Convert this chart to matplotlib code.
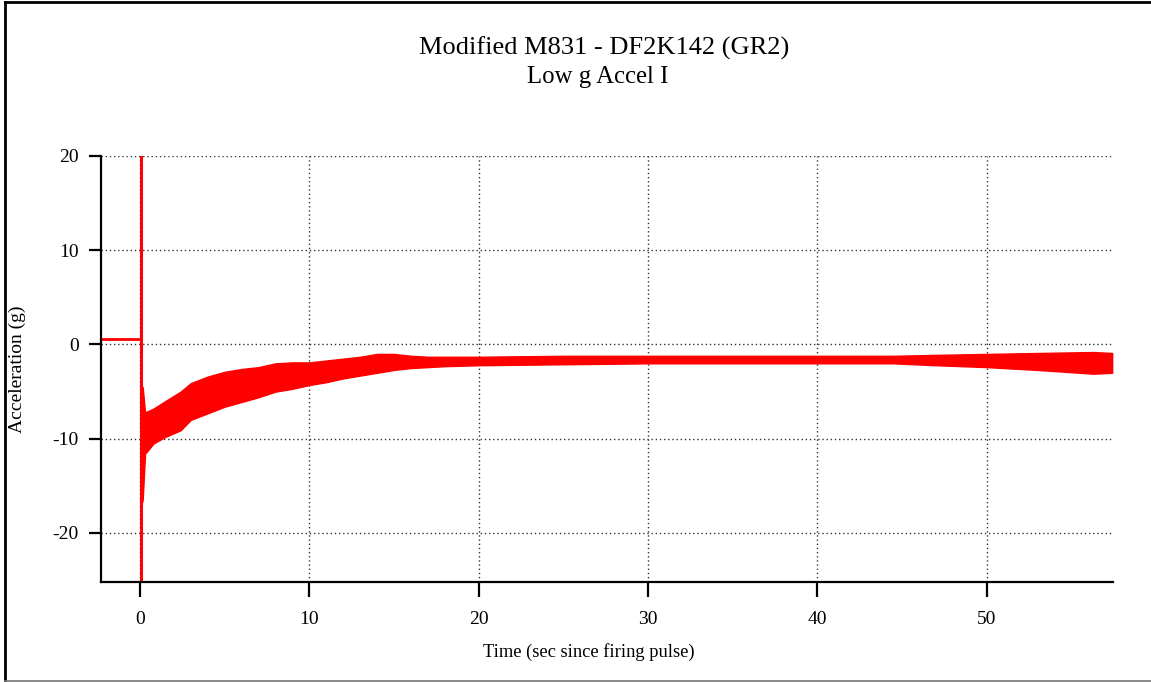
import matplotlib
matplotlib.use("Agg")
import matplotlib.pyplot as plt
from matplotlib.lines import Line2D

plt.rcParams["font.family"] = ["Liberation Serif", "DejaVu Serif"]
plt.rcParams["axes.unicode_minus"] = False

# --- データ ---
# 発射前のオフセット
pre_t = [-2.3, 0.06]
pre_g = [0.6, 0.6]

# 発射パルス時のスパイク
spike_t = [0.06, 0.06]
spike_g = [-25.5, 20.0]

# 発射後のノイズ帯 (上限・下限)
env_t = [0.08, 0.16, 0.3, 0.8, 1.5, 2.4, 3, 4, 5, 6, 7, 8, 9, 10, 11, 12, 13, 14,
         15, 16, 17, 18, 20, 25, 30, 35, 40, 44.5, 47, 50, 53, 56.3, 57.4]
env_hi = [-4.5, -4.5, -7.2, -6.8, -6.0, -5.0, -4.1, -3.4, -2.9, -2.6, -2.4, -2.0,
          -1.9, -1.9, -1.7, -1.5, -1.3, -1.0, -1.0, -1.2, -1.3, -1.3, -1.3, -1.2, -1.2,
          -1.2, -1.2, -1.2, -1.1, -1.0, -0.9, -0.8, -0.9]
env_lo = [-17.0, -16.5, -11.6, -10.5, -9.8, -9.1, -8.0, -7.3, -6.6, -6.1, -5.6,
          -5.0, -4.7, -4.3, -4.0, -3.6, -3.3, -3.0, -2.7, -2.5, -2.4, -2.3, -2.2, -2.1,
          -2.0, -2.0, -2.0, -2.0, -2.2, -2.4, -2.7, -3.1, -3.0]

x_ticks = [0, 10, 20, 30, 40, 50]
y_ticks = [-20, -10, 0, 10, 20]

W, H = 1151, 682
fig = plt.figure(figsize=(W / 100, H / 100), dpi=100)
ax = fig.add_axes([101 / W, 1 - 582 / H, (1113 - 101) / W, (582 - 156) / H])

red = "#ff0000"
ax.fill_between(env_t, env_lo, env_hi, color=red, linewidth=1.0, edgecolor=red)
ax.plot(pre_t, pre_g, color=red, linewidth=2.0)
ax.plot(spike_t, spike_g, color=red, linewidth=2.2)

ax.set_xlim(-2.3, 57.45)
ax.set_ylim(-25.2, 20)
ax.set_xticks(x_ticks)
ax.set_yticks(y_ticks)
ax.grid(True, color="#333333", linestyle=(0, (1, 2)), linewidth=1.0)
ax.set_axisbelow(True)

for side in ("top", "right"):
    ax.spines[side].set_visible(False)
for side in ("left", "bottom"):
    ax.spines[side].set_linewidth(1.6)

ax.tick_params(axis="x", length=11, width=1.6, pad=10, labelsize=14)
ax.tick_params(axis="y", length=9, width=1.6, pad=7, labelsize=14)

ax.set_xlabel("Time (sec since firing pulse)", fontsize=13.3)
ax.xaxis.set_label_coords((588.5 - 101) / (1113 - 101), -(652 - 582) / (582 - 156))
ax.xaxis.label.set_va("center")
ax.set_ylabel("Acceleration (g)", fontsize=14)
ax.yaxis.set_label_coords(-(101 - 17) / (1113 - 101), 0.5)
ax.yaxis.label.set_va("center")

fig.text(604 / W, 1 - 55 / H, "Modified M831 - DF2K142 (GR2)", ha="center",
         va="baseline", fontsize=19)
fig.text(598 / W, 1 - 82.5 / H, "Low g Accel I", ha="center", va="baseline",
         fontsize=17.8)

# 外枠 (左・上は黒、下は灰色)
fig.lines.append(Line2D([5 / W, 5 / W], [1.5 / H, 1 - 2 / H], transform=fig.transFigure,
                        color="black", linewidth=2.0))
fig.lines.append(Line2D([5 / W, 1], [1 - 2 / H, 1 - 2 / H], transform=fig.transFigure,
                        color="black", linewidth=2.0))
fig.lines.append(Line2D([5 / W, 1], [1 / H, 1 / H], transform=fig.transFigure,
                        color="#777777", linewidth=1.2))

fig.savefig("out.png", dpi=100)
